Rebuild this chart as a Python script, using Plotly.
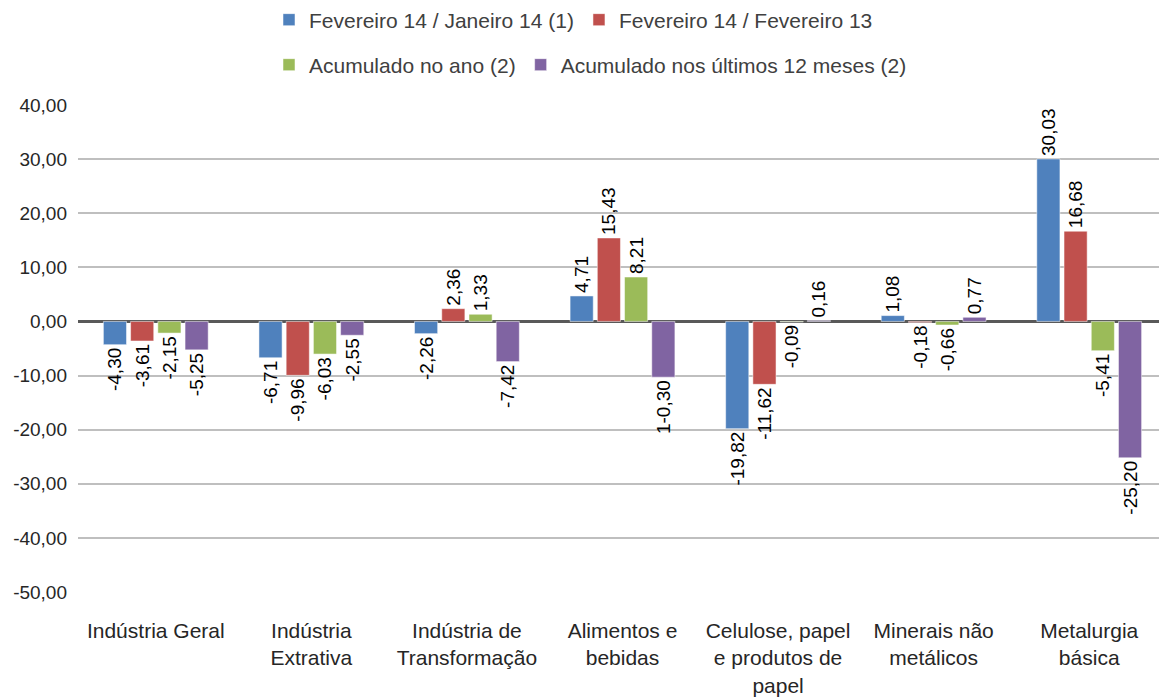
import plotly.graph_objects as go

categories = ["Indústria Geral", "Indústria<br>Extrativa", "Indústria de<br>Transformação",
              "Alimentos e<br>bebidas", "Celulose, papel<br>e produtos de<br>papel",
              "Minerais não<br>metálicos", "Metalurgia<br>básica"]
series_names = ["Fevereiro 14 / Janeiro 14 (1)", "Fevereiro 14 / Fevereiro 13",
                "Acumulado no ano (2)", "Acumulado nos últimos 12 meses (2)"]
fev_jan = [-4.30, -6.71, -2.26, 4.71, -19.82, 1.08, 30.03]
fev_fev = [-3.61, -9.96, 2.36, 15.43, -11.62, -0.18, 16.68]
acum_ano = [-2.15, -6.03, 1.33, 8.21, -0.09, -0.66, -5.41]
acum_12m = [-5.25, -2.55, -7.42, -10.30, 0.16, 0.77, -25.20]
y_ticks = [40, 30, 20, 10, 0, -10, -20, -30, -40, -50]
y_tick_labels = ["40,00", "30,00", "20,00", "10,00", "0,00", "-10,00", "-20,00", "-30,00", "-40,00", "-50,00"]

def fmt(v):
    return f"{v:.2f}".replace(".", ",")

labels_12m = [fmt(v) for v in acum_12m]
labels_12m[3] = "1-0,30"

series = [fev_jan, fev_fev, acum_ano, acum_12m]
texts = [[fmt(v) for v in fev_jan], [fmt(v) for v in fev_fev], [fmt(v) for v in acum_ano], labels_12m]
colors = ["#4F81BD", "#C0504D", "#9BBB59", "#8064A2"]
legends = ["legend", "legend", "legend2", "legend2"]

W, H = 1159, 689  # page body adds 8px margin on left/top

font_family = "Liberation Sans"
fig = go.Figure()
for name, vals, txt, col, lg in zip(series_names, series, texts, colors, legends):
    fig.add_trace(go.Bar(
        x=categories, y=vals, name=name, text=txt,
        textposition="outside", textangle=-90, constraintext="none",
        cliponaxis=False,
        textfont=dict(family=font_family, size=19, color="#000000"),
        marker=dict(color=col, line=dict(color="rgba(255,255,255,0.5)", width=1)),
        legend=lg,
    ))

fig.update_layout(
    width=W, height=H,
    margin=dict(l=70, r=0, t=97, b=105),
    paper_bgcolor="white", plot_bgcolor="white",
    barmode="group", bargap=0.3, bargroupgap=0.15,
    font=dict(family=font_family, size=19, color="#262626"),
    legend=dict(orientation="h", x=261 / W, xanchor="left", y=1 - 12 / H, yanchor="middle",
                xref="container", yref="container", font=dict(size=21, color="#404040"),
                itemwidth=30, traceorder="normal"),
    legend2=dict(orientation="h", x=261 / W, xanchor="left", y=1 - 57 / H, yanchor="middle",
                 xref="container", yref="container", font=dict(size=21, color="#404040"),
                 itemwidth=30, traceorder="normal"),
)
fig.update_yaxes(range=[-50, 40], tickvals=y_ticks, ticktext=y_tick_labels,
                 showgrid=True, gridcolor="#BFBFBF", gridwidth=1.5,
                 zeroline=True, zerolinecolor="#595959", zerolinewidth=3,
                 ticks="", showline=False, automargin=False, ticklabelstandoff=10,
                 tickfont=dict(size=19, color="#262626"))
fig.update_xaxes(showgrid=False, showline=False, ticks="", automargin=False,
                 ticklabelstandoff=24, tickfont=dict(size=21, color="#262626"))

fig.write_html("out.html")
